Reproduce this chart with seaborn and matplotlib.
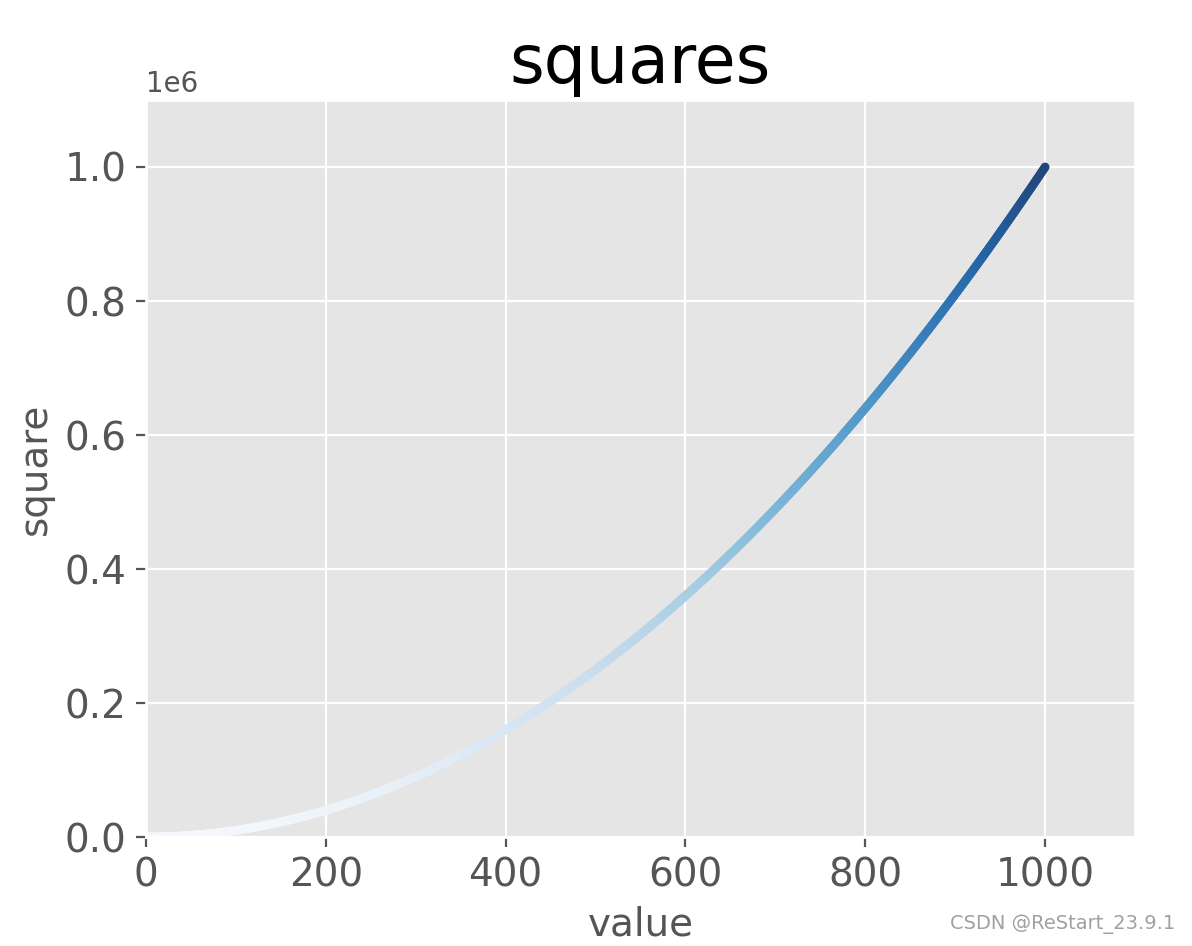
import matplotlib
matplotlib.use("Agg")
import matplotlib.pyplot as plt
from matplotlib.colors import LinearSegmentedColormap, to_rgb
import seaborn as sns
import pandas as pd
import numpy as np

# Data: integers 1..1000 and their squares (the chart titled "squares")
x_values = list(range(1, 1001))
y_values = [x * x for x in x_values]
title = "squares"
x_label = "value"
y_label = "square"

plt.style.use("ggplot")
plt.rcParams["font.family"] = ["DejaVu Sans"]

df = pd.DataFrame({"value": x_values, "square": y_values})

# Blues colormap, slightly softened toward the panel grey as in the reference
base = plt.get_cmap("Blues")
grey = np.array(to_rgb("#e5e5e5"))
soft = [tuple(0.88 * np.array(base(t)[:3]) + 0.12 * grey) for t in np.linspace(0, 1, 256)]
cmap = LinearSegmentedColormap.from_list("softblues", soft)

fig = plt.figure(figsize=(5.96, 4.73), dpi=200)
ax = fig.add_axes([0.1225, 0.1152, 0.8297, 0.7791])

sns.scatterplot(data=df, x="value", y="square", hue="square", palette=cmap,
                hue_norm=(min(y_values), max(y_values)),
                s=10, linewidth=0, edgecolor="none", legend=False, ax=ax)

ax.set_title(title, fontsize=24, color="black")
ax.set_xlabel(x_label, fontsize=14)
ax.set_ylabel(y_label, fontsize=14)
ax.tick_params(axis="both", which="major", labelsize=14)
ax.axis([0, 1100, 0, 1100000])

fig.text(0.986, 0.013, "CSDN @ReStart_23.9.1", ha="right", va="bottom",
         fontsize=7, color="#a0a0a0", family=["Liberation Sans Narrow", "DejaVu Sans"])

fig.savefig("out.png", dpi=200)
